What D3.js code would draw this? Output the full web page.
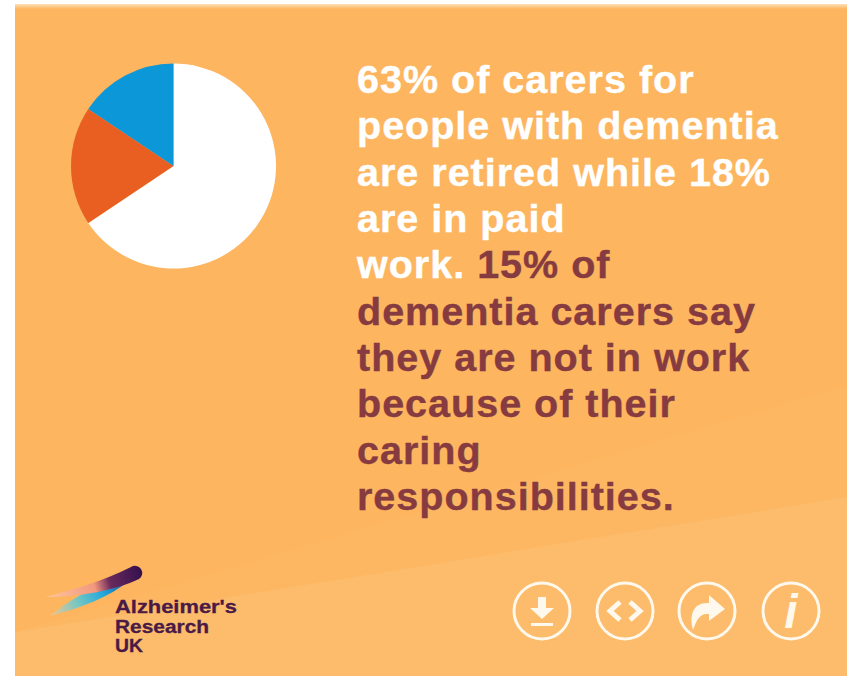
<!DOCTYPE html>
<html>
<head>
<meta charset="utf-8">
<script src="https://cdn.jsdelivr.net/npm/d3@7"></script>
<style>
html,body{margin:0;padding:0;background:#fff}
svg{display:block}
text{font-family:"Liberation Sans",Arial,sans-serif}
</style>
</head>
<body>
<svg id="chart" width="849" height="676"></svg>
<script>
// Employment status of dementia carers, in percent
const categories = ["Retired", "In paid work", "Not in work because of caring"];
const values = [63, 18, 15];
const sliceColors = ["#ffffff", "#e95f22", "#0b97d8"];

const whiteLines = ["63% of carers for", "people with dementia", "are retired while 18%", "are in paid", "work. "];
const redInline = "15% of";
const redLines = ["dementia carers say", "they are not in work", "because of their", "caring", "responsibilities."];
const logoLines = ["Alzheimer's", "Research", "UK"];

const svg = d3.select("#chart");
const defs = svg.append("defs");

// Panel and its pale diagonal bands
svg.append("rect").attr("x", 15).attr("y", 4).attr("width", 832).attr("height", 672).attr("fill", "#fdb55f");
const band = d3.line();
svg.append("path").attr("d", band([[15, 632], [847, 385], [847, 676], [15, 676]]) + "Z").attr("fill", "#fdb762");
svg.append("path").attr("d", band([[15, 632], [847, 497], [847, 676], [15, 676]]) + "Z").attr("fill", "#fcbc6b");
const topFade = defs.append("linearGradient").attr("id", "topFade").attr("x1", 0).attr("y1", 0).attr("x2", 0).attr("y2", 1);
topFade.append("stop").attr("offset", 0).attr("stop-color", "#fff").attr("stop-opacity", 0.7);
topFade.append("stop").attr("offset", 1).attr("stop-color", "#fff").attr("stop-opacity", 0);
svg.append("rect").attr("x", 15).attr("y", 3).attr("width", 832).attr("height", 6).attr("fill", "url(#topFade)");

// Pie, starting at twelve o'clock and running clockwise
const pie = d3.pie().sort(null).value(d => d);
const arc = d3.arc().innerRadius(0).outerRadius(102.5);
svg.append("g").attr("transform", "translate(173.5,166)")
  .selectAll("path").data(pie(values)).join("path")
  .attr("d", arc)
  .attr("fill", (d, i) => sliceColors[i]);

// Headline copy
const inkRed = "#863b40";
const copy = svg.append("g").attr("font-size", 39.5).attr("font-weight", 700).attr("letter-spacing", 1);
const lineY = i => 93 + i * 46.35;
const x0 = 357;
whiteLines.forEach((t, i) => {
  const el = copy.append("text").attr("x", x0).attr("y", lineY(i)).attr("fill", "#fff")
    .attr("stroke", "#fff").attr("stroke-width", 0.4).attr("xml:space", "preserve").text(t);
  if (i === whiteLines.length - 1) {
    el.append("tspan").attr("fill", inkRed).attr("stroke", inkRed).text(redInline);
  }
});
redLines.forEach((t, i) => {
  copy.append("text").attr("x", x0).attr("y", lineY(i + whiteLines.length)).attr("fill", inkRed)
    .attr("stroke", inkRed).attr("stroke-width", 0.4).text(t);
});

// Charity logo: comet streaks and wordmark
const streakA = defs.append("linearGradient").attr("id", "streakA").attr("gradientUnits", "userSpaceOnUse")
  .attr("x1", 46).attr("y1", 597).attr("x2", 142).attr("y2", 572);
[[0, "#fdc79c"], [0.5, "#f3977e"], [0.66, "#6a2a5c"], [1, "#33104e"]].forEach(([o, c]) =>
  streakA.append("stop").attr("offset", o).attr("stop-color", c));
const streakB = defs.append("linearGradient").attr("id", "streakB").attr("gradientUnits", "userSpaceOnUse")
  .attr("x1", 50).attr("y1", 616).attr("x2", 125).attr("y2", 582);
[[0, "#f8c48a"], [0.35, "#7cc8c0"], [0.7, "#22a8dc"], [1, "#1a5aa0"]].forEach(([o, c]) =>
  streakB.append("stop").attr("offset", o).attr("stop-color", c));
const logo = svg.append("g");
logo.append("path").attr("d", "M50 616 C66 602 86 591 110 581 L130 580 C110 597 80 608 50 616Z").attr("fill", "url(#streakB)");
logo.append("path").attr("d", "M46 597 C70 590 102 582 131 567 A7 7 0 0 1 139 579 C116 590 80 597 46 597Z").attr("fill", "url(#streakA)");
logoLines.forEach((t, i) => {
  logo.append("text").attr("x", 115).attr("y", 613 + i * 19.5).attr("font-size", 17.5).attr("font-weight", 700)
    .attr("font-family", "DejaVu Sans, sans-serif")
    .attr("fill", "#4a1a46").attr("stroke", "#4a1a46").attr("stroke-width", 0.3)
    .attr("textLength", [122, 94, 28][i]).attr("lengthAdjust", "spacingAndGlyphs").text(t);
});

// Action buttons: download, embed, share, info
const buttonX = [542, 625, 707, 791];
const iconColor = "#fff8ec";
const buttons = svg.selectAll("g.btn").data(buttonX).join("g").attr("class", "btn")
  .attr("transform", d => `translate(${d},611)`);
buttons.append("circle").attr("r", 28).attr("fill", "none").attr("stroke", iconColor).attr("stroke-width", 3);
buttons.each(function (d, i) {
  const g = d3.select(this);
  if (i === 0) {
    g.append("path").attr("d", "M-4 -14H4V-3H12L0 8L-12 -3H-4Z").attr("fill", iconColor);
    g.append("rect").attr("x", -11).attr("y", 12).attr("width", 22).attr("height", 3).attr("fill", iconColor);
  } else if (i === 1) {
    g.append("path").attr("d", "M-5 -9L-15 0L-5 9M5 -9L15 0L5 9").attr("fill", "none").attr("stroke", iconColor).attr("stroke-width", 5);
  } else if (i === 2) {
    g.append("path").attr("d", "M-14 19C-18 4 -14 -9 2 -8V-16L18 -2L2 10V3C-7 2 -10 8 -14 19Z").attr("fill", iconColor);
  } else {
    g.append("text").attr("text-anchor", "middle").attr("y", 17).attr("font-family", "Liberation Serif, serif")
      .attr("font-style", "italic").attr("font-weight", 700).attr("font-size", 48).attr("fill", iconColor).text("i");
  }
});
</script>
</body>
</html>
